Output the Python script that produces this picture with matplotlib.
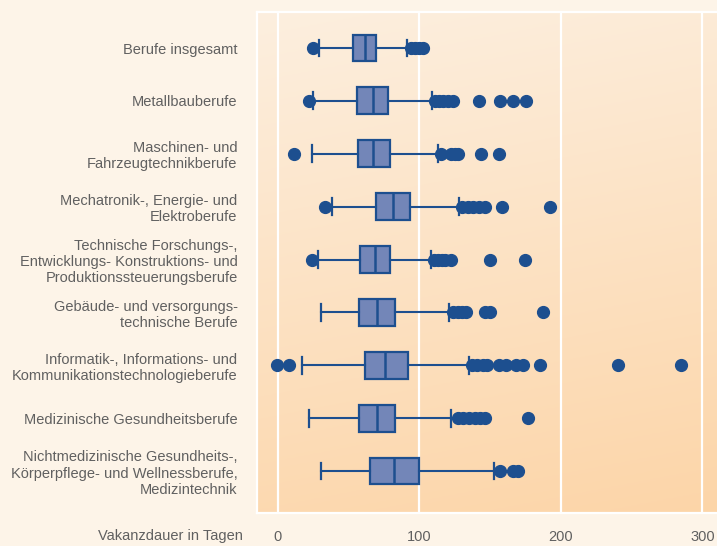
import numpy as np
import matplotlib.pyplot as plt
from matplotlib.colors import to_rgb

# Box statistics per occupation group (days of vacancy)
categories = [
    "Berufe insgesamt",
    "Metallbauberufe",
    "Maschinen- und\nFahrzeugtechnikberufe",
    "Mechatronik-, Energie- und\nElektroberufe",
    "Technische Forschungs-,\nEntwicklungs- Konstruktions- und\nProduktionssteuerungsberufe",
    "Gebäude- und versorgungs-\ntechnische Berufe",
    "Informatik-, Informations- und\nKommunikationstechnologieberufe",
    "Medizinische Gesundheitsberufe",
    "Nichtmedizinische Gesundheits-,\nKörperpflege- und Wellnessberufe,\nMedizintechnik",
]
q1 = [53, 56, 56.5, 69, 58, 57, 61.5, 57, 65]
med = [61.5, 67, 67, 81, 68.5, 70, 76, 70, 82]
q3 = [69, 78, 79, 93, 79, 83, 92, 83, 100]
whislo = [29, 24.5, 24, 38, 28, 30.5, 17, 22, 30.5]
whishi = [91.5, 109, 113, 128, 108.5, 121, 135, 122, 153]
fliers = [
    [25, 94, 97, 100, 102.5],
    [22, 111, 114, 117, 120, 124, 142, 157, 166, 175],
    [11.5, 115, 122, 125, 127, 143.5, 156],
    [33, 130, 134, 138, 142, 146, 158, 192],
    [24, 110, 113, 116, 118, 122, 150, 174.5],
    [124, 127, 130, 133, 146, 150, 187],
    [-0.5, 8, 137, 141, 145, 148, 156, 161, 168, 173, 185.5, 240, 285],
    [127, 131, 135, 139, 143, 146, 177],
    [157, 166, 170],
]
xticks = [0, 100, 200, 300]
xlabel = "Vakanzdauer in Tagen"

bg = "#fdf4e8"
dark = "#1d4f8f"
fill = "#7386b8"
text_col = "#606060"
font = ["Liberation Sans", "DejaVu Sans"]

fig = plt.figure(figsize=(7.17, 5.46), dpi=100, facecolor=bg)
ax = fig.add_axes([257 / 717, 33 / 546, 460 / 717, 501 / 546])
ax.set_facecolor(bg)

# gradient panel background, light at top-left, peach at bottom-right
top = np.array(to_rgb("#fdefdf"))
bot = np.array(to_rgb("#fcd5a8"))
yy, xx = np.mgrid[0:1:200j, 0:1:200j]
t = np.clip(0.85 * yy + 0.15 * xx, 0, 1)[..., None]
grad = top * (1 - t) + bot * t
ax.imshow(grad, extent=[0, 1, 0, 1], transform=ax.transAxes,
          aspect="auto", origin="upper", zorder=0)

stats = []
for i, name in enumerate(categories):
    stats.append({
        "label": name, "q1": q1[i], "med": med[i], "q3": q3[i],
        "whislo": whislo[i], "whishi": whishi[i], "fliers": fliers[i],
    })

pos = np.arange(len(categories))
ax.bxp(
    stats, positions=pos, orientation="horizontal", widths=0.51,
    capwidths=0.32, patch_artist=True, manage_ticks=False,
    boxprops=dict(facecolor=fill, edgecolor=dark, linewidth=1.6),
    medianprops=dict(color=dark, linewidth=1.8),
    whiskerprops=dict(color=dark, linewidth=1.5),
    capprops=dict(color=dark, linewidth=1.6),
    flierprops=dict(marker="o", markersize=8.5, markerfacecolor=dark,
                    markeredgecolor=dark),
    zorder=3,
)

ax.set_xlim(-14.8, 310.3)
ax.set_ylim(len(categories) - 1 + 0.794, -0.681)

for x in xticks:
    ax.axvline(x, color="white", lw=1.6, zorder=1)

ax.set_yticks(pos)
ax.set_yticklabels(categories, fontsize=10.5, color=text_col, family=font,
                   linespacing=1.2)
ax.set_xticks(xticks)
ax.set_xticklabels([str(v) for v in xticks], fontsize=10.5, color=text_col,
                   family=font)
ax.tick_params(axis="y", length=0, pad=14)
ax.tick_params(axis="x", length=0, pad=12)

for side in ["top", "left", "bottom"]:
    ax.spines[side].set_color("white")
    ax.spines[side].set_linewidth(1.6)
ax.spines["right"].set_visible(False)

fig.text(243 / 717, 1 - 536 / 546, xlabel, ha="right", va="center",
         fontsize=10.5, color=text_col, family=font)

fig.savefig("out.png", dpi=100, facecolor=bg)
